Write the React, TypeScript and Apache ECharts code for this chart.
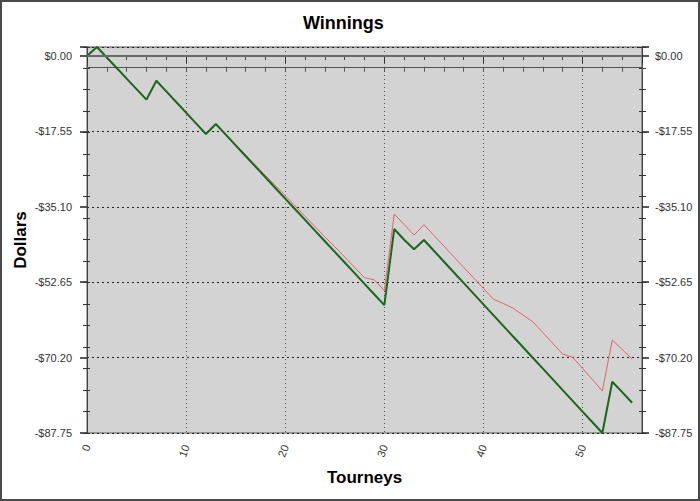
import React, { useEffect, useRef } from "react";
import * as echarts from "echarts";

const F = "'Liberation Sans', Arial, sans-serif";

// Tourney index = position in arrays (0..55)
const greenWinnings = [
  0, 2.1, -0.35, -2.8, -5.25, -7.7, -10.15, -5.75, -8.23, -10.71, -13.19, -15.67, -18.15, -15.83,
  -18.31, -20.79, -23.27, -25.75, -28.23, -30.71, -33.19, -35.67, -38.15, -40.63, -43.11, -45.59,
  -48.07, -50.55, -53.03, -55.51, -57.99, -40.27, -42.77, -45.0, -42.83, -45.33, -47.82, -50.32,
  -52.82, -55.31, -57.81, -60.3, -62.8, -65.3, -67.79, -70.29, -72.78, -75.28, -77.78, -80.27,
  -82.77, -85.26, -87.75, -75.81, -78.25, -80.7,
];

const redWinnings = [
  0, 2.1, -0.35, -2.8, -5.25, -7.7, -10.15, -5.75, -8.23, -10.71, -13.19, -15.67, -18.15, -15.83,
  -18.2, -20.6, -23.0, -25.4, -27.8, -30.1, -32.5, -34.9, -37.3, -39.7, -42.1, -44.4, -46.8, -49.2,
  -51.6, -52.1, -54.6, -36.78, -39.2, -41.67, -39.27, -41.75, -44.2, -46.7, -49.2, -51.6, -54.1,
  -56.6, -57.6, -58.7, -60.3, -61.9, -64.4, -66.9, -69.4, -70.1, -72.7, -75.3, -78.0, -66.1, -68.3,
  -70.5,
];

const Y_MIN = -87.75;
const Y_MAX = 2.1;
const Y_STEP = 17.55;
const X_MAX = 56;

function fmtDollar(v: number): string {
  if (Math.abs(v) < 1e-6) return "$0.00";
  if (v < 0) return "-$" + Math.abs(v).toFixed(2);
  return "";
}

function minorY(position: "left" | "right", inside: boolean, length: number) {
  // shifted scale (same pixel mapping) so minor ticks fall every $5
  return {
    type: "value",
    position,
    min: Y_MIN + 2.5,
    max: Y_MAX + 2.5,
    interval: 5,
    axisLine: { show: false },
    axisTick: { show: true, inside, length, lineStyle: { color: "#333" } },
    axisLabel: { show: false },
    splitLine: { show: false },
  };
}

export default function App() {
  const ref = useRef<HTMLDivElement>(null);
  useEffect(() => {
    if (!ref.current) return;
    const chart = echarts.init(ref.current, null, { renderer: "svg" });
    const option: any = {
      animation: false,
      backgroundColor: "#ffffff",
      title: {
        text: "Winnings",
        left: 298,
        top: 9,
        textStyle: { fontSize: 18, fontWeight: "bold", color: "#000", fontFamily: F },
      },
      grid: {
        left: 87,
        right: 58,
        top: 47,
        bottom: 68,
        show: true,
        backgroundColor: "#d3d3d3",
        borderColor: "#555",
        borderWidth: 1,
      },
      xAxis: [
        {
          type: "value",
          position: "bottom",
          min: 0,
          max: X_MAX,
          interval: 10,
          name: "Tourneys",
          nameLocation: "middle",
          nameGap: 36,
          nameMoveOverlap: false,
          nameTextStyle: { fontSize: 17, fontWeight: "bold", color: "#000", fontFamily: F },
          axisLine: { show: true, lineStyle: { color: "#444" } },
          axisTick: { show: true, length: 7, lineStyle: { color: "#333" } },
          minorTick: { show: true, splitNumber: 5, length: 4, lineStyle: { color: "#444" } },
          axisLabel: {
            rotate: 70,
            margin: 12,
            fontSize: 11,
            color: "#333",
            fontFamily: F,
            formatter: (v: number) => (v % 10 === 0 ? String(v) : ""),
          },
          splitLine: { show: true, lineStyle: { color: "#555", type: [1, 3], width: 1 } },
        },
        {
          type: "value",
          position: "top",
          min: 0,
          max: X_MAX,
          interval: 2,
          axisLine: { show: true, lineStyle: { color: "#555" } },
          axisTick: { show: true, inside: true, length: 5, lineStyle: { color: "#555" } },
          axisLabel: { show: false },
          splitLine: { show: false },
        },
      ],
      yAxis: [
        {
          type: "value",
          position: "left",
          min: Y_MIN,
          max: Y_MAX,
          interval: Y_STEP,
          name: "Dollars",
          nameLocation: "middle",
          nameGap: 58,
          nameRotate: 90,
          nameMoveOverlap: false,
          nameTextStyle: { fontSize: 17, fontWeight: "bold", color: "#000", fontFamily: F },
          axisLine: { show: true, lineStyle: { color: "#444" } },
          axisTick: { show: true, length: 7, lineStyle: { color: "#222", width: 1.5 } },
          axisLabel: { margin: 15, fontSize: 11, color: "#333", fontFamily: F, formatter: fmtDollar },
          splitLine: { show: true, lineStyle: { color: "#222", type: [2, 3], width: 1 } },
        },
        minorY("left", false, 4),
        minorY("left", true, 3),
        {
          type: "value",
          position: "right",
          min: Y_MIN,
          max: Y_MAX,
          interval: Y_STEP,
          axisLine: { show: true, lineStyle: { color: "#444" } },
          axisTick: { show: true, length: 7, lineStyle: { color: "#222", width: 1.5 } },
          axisLabel: { margin: 13, fontSize: 11, color: "#333", fontFamily: F, formatter: fmtDollar },
          splitLine: { show: false },
        },
        minorY("right", false, 4),
        minorY("right", true, 3),
      ],
      series: [
        {
          type: "line",
          xAxisIndex: 0,
          yAxisIndex: 0,
          data: redWinnings.map((v, i) => [i, v]),
          symbol: "none",
          lineStyle: { color: "#e26466", width: 1 },
          z: 2,
          markLine: {
            silent: true,
            symbol: "none",
            label: { show: false },
            lineStyle: { color: "#6a6a6a", width: 2, type: "solid" },
            data: [{ yAxis: 0 }],
          },
        },
        {
          type: "line",
          xAxisIndex: 0,
          yAxisIndex: 0,
          data: greenWinnings.map((v, i) => [i, v]),
          symbol: "none",
          lineStyle: { color: "#1a661a", width: 2 },
          z: 3,
        },
      ],
      graphic: [
        {
          type: "rect",
          shape: { x: 1, y: 1, width: 698, height: 499 },
          style: { fill: "none", stroke: "#4a4a4a", lineWidth: 2 },
          z: 100,
        },
      ],
    };
    chart.setOption(option);
    return () => chart.dispose();
  }, []);
  return (
    <div
      ref={ref}
      style={{ position: "absolute", left: 0, top: 0, width: 700, height: 501 }}
    />
  );
}
